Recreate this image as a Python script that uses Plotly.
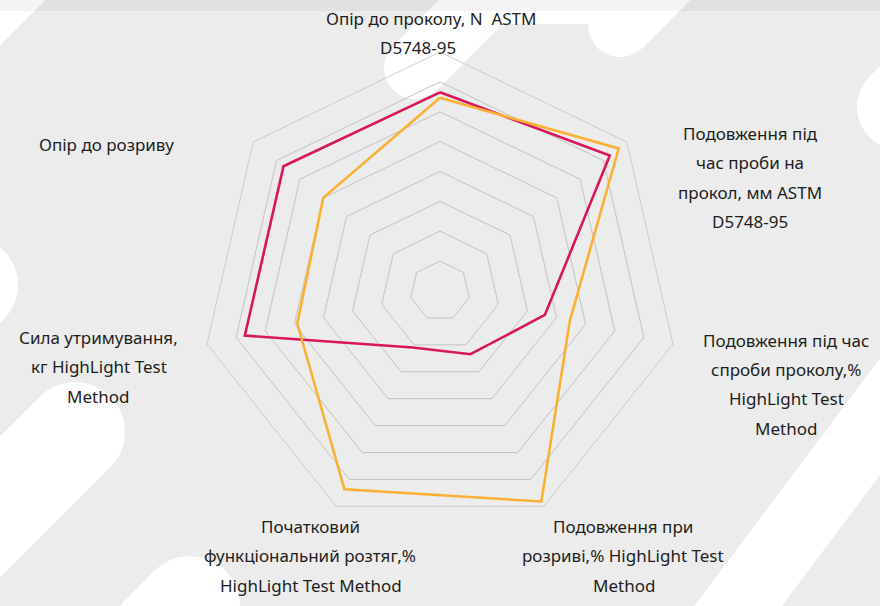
import math
import plotly.graph_objects as go

# axis labels (one list per axis, split the way they wrap in the picture)
label_lines = [
    ["Опір до проколу, N  ASTM", "D5748-95"],
    ["Подовження під", "час проби на", "прокол, мм ASTM", "D5748-95"],
    ["Подовження під час", "спроби проколу,%", "HighLight Test", "Method"],
    ["Подовження при", "розриві,% HighLight Test", "Method"],
    ["Початковий", "функціональний розтяг,%", "HighLight Test Method"],
    ["Сила утримування,", "кг HighLight Test", "Method"],
    ["Опір до розриву"],
]
categories = [" ".join(l) for l in label_lines]

# values (scale 0..8, one grid ring per unit)
red_vals = [6.65, 7.27, 3.6, 2.35, 2.1, 6.7, 6.7]
orange_vals = [6.47, 7.65, 4.46, 7.82, 7.37, 4.9, 5.0]

W, H = 880, 606
BG = "#ebeceb"
GRID = "#c3c3c3"


def px(x, y):
    return x / W, 1 - y / H


def capsule(p1, p2, w, n=18):
    # white rounded band for the background pattern
    (x1, y1), (x2, y2) = p1, p2
    dx, dy = x2 - x1, y2 - y1
    L = math.hypot(dx, dy)
    ux, uy = dx / L, dy / L
    r = w / 2
    a0 = math.atan2(uy, ux)
    pts = []
    for i in range(n + 1):
        a = a0 - math.pi / 2 + math.pi * i / n
        pts.append((x2 + r * math.cos(a), y2 + r * math.sin(a)))
    for i in range(n + 1):
        a = a0 + math.pi / 2 + math.pi * i / n
        pts.append((x1 + r * math.cos(a), y1 + r * math.sin(a)))
    d = ""
    for i, (x, y) in enumerate(pts):
        fx, fy = px(x, y)
        d += ("M" if i == 0 else "L") + f"{fx:.4f},{fy:.4f} "
    return dict(type="path", path=d + "Z", xref="paper", yref="paper",
                fillcolor="white", line=dict(width=0), layer="below")


shapes = [
    capsule((-80, 83), (83, -80), 60),
    capsule((-30, 285), (-230, 485), 96),
    capsule((75, 432), (-225, 732), 100),
    capsule((190, 606), (-100, 900), 100),
    capsule((415, 68), (515, -32), 62),
    capsule((620, 25), (700, -55), 64),
    capsule((900, 107), (1000, 7), 86),
    capsule((705, 650), (930, 350), 70),
    dict(type="path", xref="paper", yref="paper", layer="below",
         path="M{},{} L{},{} L{},{} L{},{} Z".format(*px(470, 0), *px(650, 0), *px(630, 24), *px(495, 24)),
         fillcolor="white", line=dict(width=0)),
    # faint shadow along the top edge
    dict(type="rect", xref="paper", yref="paper", x0=0, x1=1, y0=1 - 11 / H, y1=1,
         fillcolor="#000000", opacity=0.045, line=dict(width=0), layer="above"),
]

fig = go.Figure()
for vals, color in [(red_vals, "#d9155b"), (orange_vals, "#fbb034")]:
    fig.add_trace(go.Scatterpolar(
        r=vals + vals[:1],
        theta=categories + categories[:1],
        mode="lines",
        line=dict(color=color, width=2.6),
        hoverinfo="skip",
        showlegend=False,
    ))

# centre of the web and its outer radius in pixels
cx, cy, R = 440, 291, 239
fig.update_layout(
    width=W, height=H,
    margin=dict(l=0, r=0, t=0, b=0),
    paper_bgcolor=BG,
    plot_bgcolor=BG,
    shapes=shapes,
    polar=dict(
        domain=dict(x=[(cx - R) / W, (cx + R) / W], y=[1 - (cy + R) / H, 1 - (cy - R) / H]),
        bgcolor="rgba(0,0,0,0)",
        gridshape="linear",
        radialaxis=dict(range=[0, 8], dtick=1, showticklabels=False, ticks="",
                        showline=False, gridcolor=GRID, gridwidth=0.8),
        angularaxis=dict(rotation=90, direction="clockwise", showticklabels=False,
                         ticks="", showgrid=False, showline=True,
                         linecolor=GRID, linewidth=0.8),
    ),
)

# label line positions (pixel centres)
label_pos = [
    [(431, 19), (418, 47)],
    [(750, 133), (750, 162), (750, 192), (750, 221)],
    [(786, 340), (786, 369), (786, 398), (786, 428)],
    [(623, 526), (623, 555), (624, 585)],
    [(310, 526), (310, 555), (311, 585)],
    [(98, 337), (99, 367), (98, 396)],
    [(106, 144)],
]
for lines, poss in zip(label_lines, label_pos):
    for text, (x, y) in zip(lines, poss):
        fx, fy = px(x, y)
        fig.add_annotation(x=fx, y=fy, xref="paper", yref="paper", text=text,
                           showarrow=False, xanchor="center", yanchor="middle",
                           font=dict(family="Noto Sans", size=17, color="#1e1e1e"))

fig.write_html("out.html", config={"displayModeBar": False},
               post_script="document.body.style.margin='0';document.body.style.overflow='hidden';")
